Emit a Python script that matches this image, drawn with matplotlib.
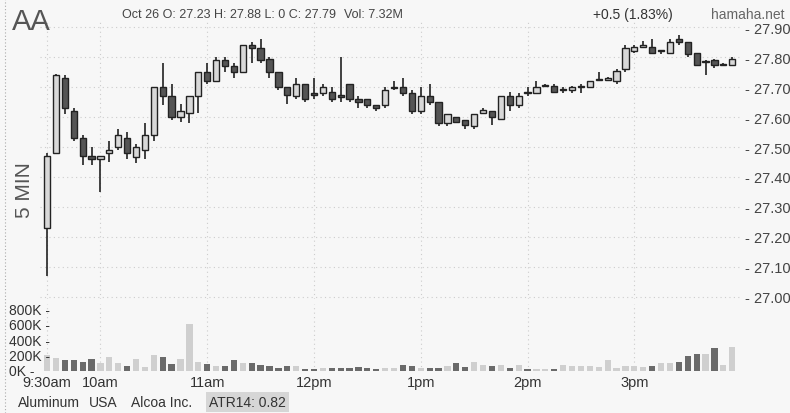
import matplotlib
matplotlib.use("Agg")
import matplotlib.pyplot as plt
import matplotlib.transforms as mtransforms
import numpy as np

plt.rcParams['font.family'] = ['Liberation Sans', 'DejaVu Sans']

opens = [27.23,27.48,27.73,27.62,27.53,27.47,27.46,27.48,27.50,27.53,27.467,27.49,27.54,27.70,27.67,27.60,27.615,27.67,27.75,27.72,
         27.79,27.77,27.75,27.84,27.83,27.795,27.75,27.70,27.67,27.71,27.68,27.68,27.685,27.672,27.71,27.66,27.66,27.64,27.64,27.698,
         27.70,27.68,27.62,27.67,27.65,27.58,27.60,27.59,27.57,27.615,27.62,27.595,27.67,27.64,27.681,27.68,27.704,27.705,27.69,27.69,
         27.70,27.70,27.724,27.725,27.72,27.76,27.82,27.835,27.835,27.82,27.815,27.86,27.85,27.815,27.784,27.79,27.774,27.775]
closes = [27.47,27.74,27.63,27.53,27.47,27.46,27.47,27.49,27.54,27.48,27.50,27.54,27.70,27.67,27.60,27.62,27.67,27.75,27.72,27.79,
          27.77,27.75,27.84,27.83,27.79,27.75,27.70,27.675,27.71,27.66,27.675,27.70,27.66,27.668,27.66,27.65,27.64,27.63,27.69,27.70,
          27.68,27.62,27.67,27.65,27.58,27.61,27.585,27.575,27.61,27.625,27.60,27.67,27.64,27.67,27.679,27.70,27.706,27.685,27.692,27.70,
          27.702,27.72,27.726,27.73,27.755,27.83,27.835,27.84,27.815,27.822,27.85,27.85,27.81,27.775,27.786,27.775,27.776,27.795]
highs = [27.48,27.745,27.74,27.63,27.54,27.50,27.47,27.52,27.56,27.55,27.51,27.58,27.70,27.78,27.71,27.645,27.67,27.75,27.78,27.80,
         27.80,27.78,27.84,27.85,27.86,27.80,27.75,27.70,27.73,27.71,27.73,27.71,27.70,27.80,27.71,27.67,27.66,27.64,27.70,27.72,
         27.73,27.69,27.70,27.71,27.65,27.61,27.60,27.59,27.61,27.63,27.62,27.67,27.685,27.68,27.70,27.72,27.71,27.71,27.70,27.705,
         27.71,27.72,27.75,27.735,27.76,27.84,27.84,27.855,27.86,27.825,27.86,27.875,27.85,27.815,27.79,27.795,27.78,27.80]
lows = [27.07,27.48,27.61,27.52,27.44,27.44,27.35,27.45,27.49,27.46,27.447,27.46,27.52,27.64,27.59,27.585,27.58,27.615,27.71,27.72,
        27.75,27.73,27.75,27.78,27.78,27.73,27.69,27.645,27.66,27.65,27.66,27.67,27.65,27.65,27.65,27.63,27.63,27.62,27.63,27.69,
        27.67,27.61,27.61,27.64,27.57,27.57,27.58,27.56,27.56,27.61,27.575,27.59,27.62,27.63,27.67,27.68,27.70,27.68,27.68,27.68,
        27.68,27.70,27.72,27.72,27.71,27.75,27.815,27.83,27.81,27.81,27.81,27.84,27.80,27.77,27.74,27.765,27.77,27.77]
volumes_k = [210,170,150,150,120,160,100,180,110,70,160,50,210,180,90,160,620,120,90,70,
             70,140,100,100,80,70,40,60,60,20,30,40,40,40,40,50,40,20,40,40,
             80,60,40,40,40,60,100,50,120,80,60,80,40,80,30,30,30,30,80,60,
             60,60,50,140,40,70,60,50,60,100,100,120,200,220,220,300,80,310]
hour_idx = [0, 6, 18, 30, 42, 54, 66]
hour_labels = ["9:30am", "10am", "11am", "12pm", "1pm", "2pm", "3pm"]
price_ticks = [27.00,27.10,27.20,27.30,27.40,27.50,27.60,27.70,27.80,27.90]
vol_ticks = [0, 200, 400, 600, 800]

W, H = 790, 414
bg = "#f7f7f7"
fig = plt.figure(figsize=(W/100, H/100), dpi=100, facecolor=bg)
def rect(l, t, r, b):
    return [l/W, 1-b/H, (r-l)/W, (b-t)/H]

ax = fig.add_axes(rect(40, 20, 742, 300), facecolor=bg)
axv = fig.add_axes(rect(40, 305, 742, 372), facecolor=bg)
n = len(opens)
x = np.arange(n)
xl = (-0.79, 78.1)
up_c, dn_c = "#d8d8d8", "#555555"
for i in range(n):
    o, c = opens[i], closes[i]
    col = up_c if c >= o else dn_c
    ax.vlines(x[i], lows[i], highs[i], color="#222222", lw=1.2, zorder=2)
    lo, hi = min(o, c), max(o, c)
    ax.bar(x[i], max(hi-lo, 0.003), bottom=lo, width=0.7, color=col, edgecolor="#222222", lw=1.0, zorder=3)
ax.set_xlim(*xl)
ax.set_ylim(26.993, 27.927)
for s in ax.spines.values(): s.set_visible(False)
ax.set_xticks([])
ax.yaxis.tick_right()
ax.set_yticks(price_ticks)
ax.set_yticklabels(["- %.2f" % p for p in price_ticks], fontsize=10.5, color="#444444")
ax.tick_params(axis="y", length=0, pad=2)
for p in price_ticks:
    ax.axhline(p, color="#cccccc", lw=0.8, ls=(0, (1, 3)), zorder=0)
for h in hour_idx:
    ax.axvline(h, color="#cccccc", lw=0.8, ls=(0, (1, 3)), zorder=0)

vcols = ["#cfcfcf" if closes[i] >= opens[i] else "#6a6a6a" for i in range(n)]
axv.bar(x, volumes_k, width=0.7, color=vcols, zorder=2)
axv.set_xlim(*xl)
axv.set_ylim(0, 880)
for s in axv.spines.values(): s.set_visible(False)
axv.set_yticks([])
tr = mtransforms.blended_transform_factory(fig.transFigure, axv.transData)
for v in vol_ticks:
    axv.text(9/W, v, "%dK -" % v, transform=tr, fontsize=10,
             color="#333333", va="center", ha="left")
axv.set_xticks(hour_idx)
axv.set_xticklabels(hour_labels, fontsize=10.5, color="#333333")
axv.tick_params(axis="x", length=0, pad=3)
for h in hour_idx:
    axv.axvline(h, color="#cccccc", lw=0.8, ls=(0, (1, 3)), zorder=0)

fig.text(12/W, 1-22/H, "AA", fontsize=21, color="#555555", va="center")
fig.text(122/W, 1-15/H, "Oct 26 O: 27.23 H: 27.88 L: 0 C: 27.79", fontsize=9, color="#444444", va="center")
fig.text(344/W, 1-15/H, "Vol: 7.32M", fontsize=9, color="#444444", va="center")
fig.text(593/W, 1-15/H, "+0.5 (1.83%)", fontsize=10, color="#333333", va="center")
fig.text(784/W, 1-15/H, "hamaha.net", fontsize=10, color="#666666", va="center", ha="right")
fig.text(25/W, 1-190/H, "5 MIN", fontsize=15, color="#555555", rotation=90, va="center", ha="center")
fig.text(18/W, 1-403/H, "Aluminum", fontsize=10, color="#333333", va="center")
fig.text(89/W, 1-403/H, "USA", fontsize=10, color="#333333", va="center")
fig.text(131/W, 1-403/H, "Alcoa Inc.", fontsize=10, color="#333333", va="center")
fig.text(209/W, 1-403/H, "ATR14: 0.82", fontsize=10, color="#333333", va="center",
         bbox=dict(boxstyle="square,pad=0.25", fc="#d6d6d6", ec="none"))
fig.add_artist(plt.Line2D([5/W, 5/W], [0, 1], color="#aaaaaa", lw=0.8, ls=(0, (1, 2))))
fig.savefig("out.png", dpi=100, facecolor=bg)
